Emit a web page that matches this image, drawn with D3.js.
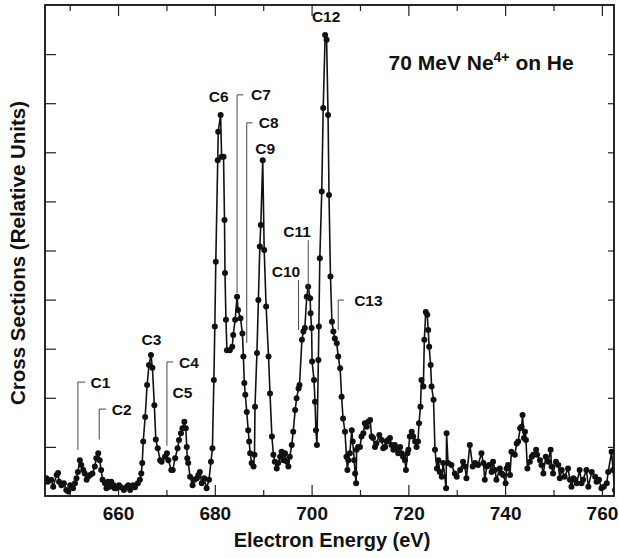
<!DOCTYPE html>
<html>
<head>
<meta charset="utf-8">
<script src="https://cdn.jsdelivr.net/npm/d3@7"></script>
<style>
  body { margin: 0; background: #fff; }
  svg text { font-family: "Liberation Sans", Arial, sans-serif; font-weight: bold; fill: #111; }
</style>
</head>
<body>
<div id="chart"></div>
<script>
// electron energy (eV) of each measured point
const energy = [
  645.2, 645.5, 646.2, 646.6, 647.3, 647.6, 647.8, 648.3, 648.8, 649.3, 649.7, 650.1, 650.7, 651.1, 651.4, 651.7,
  652.1, 652.4, 652.8, 653.1, 653.5, 653.8, 654.2, 654.7, 655.2, 655.5, 655.9, 656.2, 656.5, 656.8, 657.3, 657.6,
  657.9, 658.3, 658.6, 659.1, 659.3, 659.6, 660.2, 660.6, 661.2, 661.7, 662.1, 662.5, 663.1, 663.5, 664.1, 664.5,
  664.8, 665.0, 665.2, 665.6, 666.0, 666.4, 666.8, 667.1, 667.5, 667.8, 668.2, 668.7, 669.0, 669.7, 670.1, 670.4,
  671.0, 671.3, 671.8, 672.3, 672.6, 673.0, 673.3, 673.7, 674.0, 674.2, 674.3, 674.5, 674.9, 675.4, 675.8, 676.3,
  676.6, 676.9, 677.3, 677.8, 678.3, 678.8, 679.2, 679.5, 679.8, 680.0, 680.2, 680.6, 680.7, 681.2, 681.4, 681.8,
  682.0, 682.1, 682.3, 682.5, 683.1, 683.6, 683.8, 684.2, 684.6, 684.8, 685.3, 685.7, 685.9, 686.1, 686.3, 686.6,
  686.9, 687.1, 687.3, 687.6, 688.0, 688.2, 688.3, 688.7, 689.0, 689.3, 689.5, 689.9, 690.2, 690.6, 691.1, 691.4,
  691.8, 692.1, 692.4, 692.8, 693.1, 693.5, 693.8, 694.2, 694.5, 694.9, 695.2, 695.5, 695.9, 696.2, 696.6, 696.9,
  697.3, 697.5, 698.0, 698.3, 698.6, 699.0, 699.3, 699.7, 699.8, 700.0, 700.1, 700.5, 700.7, 700.9, 701.1, 701.4,
  701.5, 701.7, 702.1, 702.4, 702.8, 703.1, 703.4, 703.6, 703.9, 704.2, 704.5, 704.8, 705.2, 705.5, 705.9, 706.2,
  706.5, 706.9, 707.2, 707.4, 707.6, 707.9, 708.3, 708.5, 708.8, 709.0, 709.2, 709.3, 709.6, 710.0, 710.3, 710.7,
  711.0, 711.4, 711.7, 712.1, 712.4, 712.7, 713.1, 713.4, 714.0, 714.5, 714.8, 715.2, 715.5, 715.8, 716.2, 716.5,
  716.9, 717.2, 717.6, 717.9, 718.3, 718.6, 718.9, 719.3, 719.5, 719.8, 720.0, 720.3, 720.7, 721.0, 721.4, 721.7,
  722.0, 722.2, 722.5, 722.7, 723.1, 723.3, 723.6, 723.9, 724.1, 724.3, 724.6, 724.8, 725.2, 725.5, 725.9, 726.2,
  726.5, 726.9, 727.2, 727.8, 727.9, 728.2, 728.9, 729.6, 730.0, 730.7, 731.3, 731.7, 732.0, 732.7, 733.3, 733.8,
  734.4, 735.1, 735.5, 735.8, 736.2, 736.7, 737.2, 737.5, 737.9, 738.2, 738.9, 739.3, 739.6, 740.1, 740.3, 740.6,
  741.0, 741.3, 742.0, 742.4, 742.7, 743.1, 743.4, 743.6, 743.9, 744.1, 744.3, 744.6, 745.1, 745.5, 745.8, 746.4,
  746.6, 747.2, 747.5, 747.9, 748.4, 748.9, 749.4, 749.6, 749.9, 750.5, 751.0, 751.3, 751.7, 752.3, 753.0, 753.4,
  753.7, 754.1, 754.4, 754.8, 755.4, 755.8, 756.1, 756.8, 757.2, 757.9, 758.6, 758.9, 759.4, 759.9, 760.4, 761.0,
  761.3, 762.0, 762.3, 762.7
];

// cross sections (relative units)
const crossSection = [
  0.36, 0.29, 0.33, 0.19, 0.43, 0.47, 0.29, 0.22, 0.26, 0.12, 0.09, 0.22, 0.16, 0.26, 0.36, 0.49,
  0.73, 0.63, 0.53, 0.46, 0.33, 0.39, 0.43, 0.46, 0.60, 0.77, 0.87, 0.73, 0.53, 0.33, 0.26, 0.16,
  0.29, 0.19, 0.29, 0.22, 0.16, 0.16, 0.22, 0.18, 0.12, 0.18, 0.22, 0.12, 0.22, 0.18, 0.26, 0.33,
  0.46, 0.67, 1.11, 1.61, 2.26, 2.67, 2.87, 2.61, 1.85, 1.15, 0.97, 0.73, 0.70, 0.80, 0.87, 0.73,
  0.53, 0.53, 0.77, 0.97, 1.14, 1.28, 1.38, 1.51, 1.38, 1.00, 0.77, 0.67, 0.39, 0.22, 0.33, 0.36,
  0.43, 0.49, 0.26, 0.36, 0.16, 0.33, 0.70, 0.97, 2.36, 3.45, 4.77, 6.84, 7.42, 7.76, 6.91, 6.91,
  5.62, 4.54, 3.59, 2.97, 2.97, 3.04, 3.28, 3.59, 4.06, 3.79, 3.62, 3.31, 2.84, 2.30, 2.06, 1.71,
  1.34, 1.11, 0.87, 0.67, 0.60, 0.84, 1.82, 2.91, 3.99, 5.08, 5.52, 6.84, 5.01, 3.86, 2.84, 2.09,
  1.21, 0.84, 0.70, 0.56, 0.67, 0.80, 0.90, 0.73, 0.87, 0.70, 0.60, 0.80, 1.04, 1.31, 1.75, 1.99,
  2.19, 2.26, 3.18, 3.35, 3.42, 4.06, 4.26, 4.03, 3.72, 3.42, 2.74, 2.36, 1.92, 1.34, 1.04, 2.77,
  3.45, 4.84, 6.20, 7.90, 9.39, 9.29, 7.76, 6.13, 4.47, 3.55, 3.35, 3.21, 3.11, 2.84, 2.60, 2.02,
  1.58, 1.31, 0.80, 0.53, 0.73, 0.87, 1.34, 1.11, 0.73, 0.46, 0.26, 0.94, 1.00, 1.00, 1.21, 1.28,
  1.48, 1.41, 1.51, 1.55, 1.21, 1.18, 1.00, 1.07, 1.24, 1.14, 0.97, 1.00, 1.11, 1.14, 1.18, 1.04,
  0.94, 1.04, 0.97, 0.87, 1.00, 0.87, 0.80, 0.73, 0.53, 0.87, 0.94, 1.21, 1.31, 1.21, 1.11, 1.00,
  1.11, 1.48, 1.82, 2.36, 2.23, 3.18, 3.75, 3.69, 3.38, 3.04, 2.67, 2.23, 1.96, 0.94, 0.56, 0.73,
  0.49, 0.39, 0.67, 0.16, 1.28, 0.67, 0.63, 0.46, 0.39, 0.53, 0.70, 0.60, 0.36, 1.04, 0.60, 0.67,
  0.63, 0.87, 0.67, 0.33, 0.60, 0.63, 0.49, 0.70, 0.53, 0.33, 0.56, 0.46, 0.43, 0.26, 0.56, 0.63,
  0.43, 0.90, 0.84, 1.07, 1.11, 1.38, 1.41, 1.65, 1.18, 1.31, 1.14, 0.56, 0.70, 0.80, 0.84, 0.94,
  0.84, 0.73, 0.63, 0.46, 0.80, 0.70, 0.94, 0.60, 0.46, 0.70, 0.63, 0.36, 0.53, 0.39, 0.56, 0.33,
  0.19, 0.36, 0.33, 0.26, 0.53, 0.26, 0.33, 0.53, 0.19, 0.49, 0.39, 0.29, 0.33, 0.16, 0.19, 0.26,
  0.49, 0.90, 0.53, 0.12
];

const xMajorTicks = [660, 680, 700, 720, 740, 760];
const xMinorTicks = [650, 670, 690, 710, 730, 750];
const yTicks = [1, 2, 3, 4, 5, 6, 7, 8, 9];

// peak labels: text anchor point, optional leader line (energy, top, bottom) and bracket end
const peakLabels = [
  { name: "C1", tx: 654.3, ty: 2.32, anchor: "start", lx: 651.7, l1: 2.32, l2: 0.94, bx: 653.2 },
  { name: "C2", tx: 658.7, ty: 1.77, anchor: "start", lx: 656.1, l1: 1.77, l2: 1.15, bx: 657.5 },
  { name: "C3", tx: 666.9, ty: 3.18, anchor: "middle" },
  { name: "C4", tx: 672.6, ty: 2.73, anchor: "start", lx: 670.1, l1: 2.73, l2: 1.02, bx: 671.4 },
  { name: "C5", tx: 673.3, ty: 2.10, anchor: "middle" },
  { name: "C6", tx: 680.8, ty: 8.13, anchor: "middle" },
  { name: "C7", tx: 687.5, ty: 8.17, anchor: "start", lx: 684.6, l1: 8.17, l2: 4.13, bx: 685.9 },
  { name: "C8", tx: 689.1, ty: 7.60, anchor: "start", lx: 686.6, l1: 7.60, l2: 3.12, bx: 687.8 },
  { name: "C9", tx: 690.4, ty: 7.07, anchor: "middle" },
  { name: "C10", tx: 694.7, ty: 4.57, anchor: "middle", lx: 697.3, l1: 4.40, l2: 3.38 },
  { name: "C11", tx: 697.0, ty: 5.38, anchor: "middle", lx: 699.3, l1: 5.21, l2: 4.13 },
  { name: "C12", tx: 703.0, ty: 9.76, anchor: "middle" },
  { name: "C13", tx: 708.8, ty: 3.99, anchor: "start", lx: 705.5, l1: 3.99, l2: 3.38, bx: 706.7 }
];

const width = 619;
const height = 558;
const plotLeft = 45, plotRight = 614, plotTop = 5, plotBottom = 496;

const svg = d3.select("#chart").append("svg")
  .attr("width", width)
  .attr("height", height);

const x = d3.scaleLinear().domain([644.9, 762.5]).range([plotLeft, plotRight]);
const y = d3.scaleLinear().domain([0, 10]).range([plotBottom, plotTop]);

svg.append("clipPath").attr("id", "plotclip")
  .append("rect").attr("x", plotLeft).attr("y", 0).attr("width", plotRight - plotLeft).attr("height", height);

// ticks (all pointing inward)
const tickStyle = g => {
  g.select(".domain").remove();
  g.selectAll(".tick line").attr("stroke", "#222").attr("stroke-width", 1.2);
};

svg.append("g")
  .attr("transform", `translate(0,${plotBottom})`)
  .call(d3.axisBottom(x).tickValues(xMajorTicks).tickSize(-11).tickPadding(11).tickFormat(d3.format("d")))
  .call(tickStyle)
  .call(g => g.selectAll("text").attr("font-size", 19).attr("fill", "#111"));

svg.append("g")
  .attr("transform", `translate(0,${plotBottom})`)
  .call(d3.axisBottom(x).tickValues(xMinorTicks).tickSize(-6).tickFormat(""))
  .call(tickStyle);

svg.append("g")
  .attr("transform", `translate(0,${plotTop})`)
  .call(d3.axisTop(x).tickValues(xMajorTicks).tickSize(-11).tickFormat(""))
  .call(tickStyle);

svg.append("g")
  .attr("transform", `translate(0,${plotTop})`)
  .call(d3.axisTop(x).tickValues(xMinorTicks).tickSize(-6).tickFormat(""))
  .call(tickStyle);

svg.append("g")
  .attr("transform", `translate(${plotLeft},0)`)
  .call(d3.axisLeft(y).tickValues(yTicks).tickSize(-11).tickFormat(""))
  .call(tickStyle);

svg.append("g")
  .attr("transform", `translate(${plotRight},0)`)
  .call(d3.axisRight(y).tickValues(yTicks).tickSize(-6).tickFormat(""))
  .call(tickStyle);

// frame
svg.append("rect")
  .attr("x", plotLeft).attr("y", plotTop)
  .attr("width", plotRight - plotLeft).attr("height", plotBottom - plotTop)
  .attr("fill", "none").attr("stroke", "#111").attr("stroke-width", 1.8);

// data
const pts = energy.map((e, i) => [e, crossSection[i]]);
const plot = svg.append("g").attr("clip-path", "url(#plotclip)");

plot.append("path")
  .datum(pts)
  .attr("fill", "none")
  .attr("stroke", "#111")
  .attr("stroke-width", 1.6)
  .attr("d", d3.line().x(d => x(d[0])).y(d => y(d[1])));

plot.selectAll("circle")
  .data(pts)
  .join("circle")
  .attr("cx", d => x(d[0]))
  .attr("cy", d => y(d[1]))
  .attr("r", 3)
  .attr("fill", "#111");

// peak labels and leader lines
const ann = svg.append("g");
peakLabels.forEach(p => {
  if (p.lx !== undefined) {
    ann.append("line")
      .attr("x1", x(p.lx)).attr("x2", x(p.lx))
      .attr("y1", y(p.l1)).attr("y2", y(p.l2))
      .attr("stroke", "#333").attr("stroke-width", 0.9);
  }
  if (p.bx !== undefined) {
    ann.append("line")
      .attr("x1", x(p.lx)).attr("x2", x(p.bx))
      .attr("y1", y(p.l1)).attr("y2", y(p.l1))
      .attr("stroke", "#333").attr("stroke-width", 0.9);
  }
  ann.append("text")
    .attr("x", x(p.tx))
    .attr("y", y(p.ty))
    .attr("dy", "0.36em")
    .attr("text-anchor", p.anchor)
    .attr("font-size", 15.5)
    .text(p.name);
});

// title
const title = svg.append("text")
  .attr("x", x(715.9))
  .attr("y", y(8.68))
  .attr("font-size", 21);
title.append("tspan").text("70 MeV Ne");
title.append("tspan").attr("dy", -8).attr("font-size", 14).text("4+");
title.append("tspan").attr("dy", 8).text(" on He");

// axis titles
svg.append("text")
  .attr("x", 332)
  .attr("y", 547)
  .attr("text-anchor", "middle")
  .attr("font-size", 20)
  .text("Electron Energy (eV)");

svg.append("text")
  .attr("transform", "translate(25,253) rotate(-90)")
  .attr("text-anchor", "middle")
  .attr("font-size", 20.5)
  .text("Cross Sections (Relative Units)");
</script>
</body>
</html>
